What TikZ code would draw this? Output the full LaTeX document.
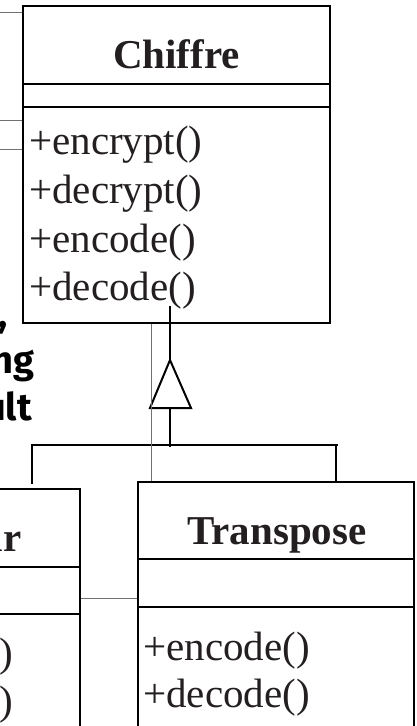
\documentclass[tikz,border=0pt]{standalone}
\usepackage{fontspec}
\setmainfont{Liberation Serif}
\newfontfamily\notefont{Fira Sans}
\definecolor{txt}{HTML}{231F20}
\definecolor{assocgray}{HTML}{707070}
\begin{document}
\begin{tikzpicture}[x=1pt,y=-1pt,
  classbox/.style={draw=black, line width=2pt, rectangle, inner sep=0pt},
  ink/.style={draw=black, line width=2pt},
  title/.style={font=\fontsize{41}{49}\selectfont\bfseries, text=txt, inner sep=0pt, anchor=base},
  op/.style={font=\fontsize{41}{49}\selectfont, text=txt, inner sep=0pt, anchor=base west},
  note/.style={font=\notefont\bfseries\fontsize{38}{46}\selectfont, text=black, inner sep=0pt, anchor=base east},
  assoc/.style={draw=assocgray, line width=1pt},
  gen/.style={draw=black, line width=2pt}]
\useasboundingbox (0,0) rectangle (417,726);
\begin{scope}
\clip (0,0) rectangle (417,726);

% class boxes
\node[classbox, minimum width=307pt, minimum height=317pt] (chiffre) at (176.5,164.5) {};
\node[classbox, minimum width=276pt, minimum height=278pt] (transpose) at (276,621) {};
\node[classbox, minimum width=140pt, minimum height=271pt] (leftbox) at (10,624.5) {};

% compartment separators
\draw[ink] (chiffre.west |- 0,84) -- (chiffre.east |- 0,84);
\draw[ink] (chiffre.west |- 0,107) -- (chiffre.east |- 0,107);
\draw[ink] (transpose.west |- 0,559) -- (transpose.east |- 0,559);
\draw[ink] (transpose.west |- 0,607) -- (transpose.east |- 0,607);
\draw[ink] (leftbox.west |- 0,567) -- (leftbox.east |- 0,567);
\draw[ink] (leftbox.west |- 0,614) -- (leftbox.east |- 0,614);

% class names and operations
\node[title] (chiffreName) at (176.5,68) {Chiffre};
\node[op] (encrypt) at (29,154) {+encrypt()};
\node[op] (decrypt) at (29,203) {+decrypt()};
\node[op] (encode) at (29,252) {+encode()};
\node[op] (decode) at (29,300) {+decode()};

\node[title] (transposeName) at (277,544) {Transpose};
\node[op] (tEncode) at (143,660) {+encode()};
\node[op] (tDecode) at (143,707) {+decode()};

\node[title, anchor=base east] (leftName) at (21.5,551) {ar};
\node[op, anchor=base east] (lEncode) at (13,666) {)};
\node[op, anchor=base east] (lDecode) at (13,714) {)};

% note text
\node[note] (noteA) at (8,327) {,};
\node[note] (noteB) at (35,373) {ng};
\node[note] (noteC) at (32,420) {ult};

% generalization
\coordinate (genTop) at (170,306);
\coordinate (apex) at (170,360);
\coordinate (triL) at (150,408);
\coordinate (triR) at (191,408);
\coordinate (hub) at (170,447);
\coordinate (barL) at (31,445);
\coordinate (barR) at (338,445);
\coordinate (dropL) at (32,445);
\coordinate (dropLend) at (32,484);
\coordinate (dropR) at (336,445);
\draw[gen] (genTop) -- (apex);
\draw[gen, line join=miter] (apex) -- (triR) -- (triL) -- cycle;
\draw[gen] (triL -| apex) -- (hub);
\draw[gen] (barL) -- (barR);
\draw[gen] (dropL) -- (dropLend);
\draw[gen] (dropR) -- (dropR |- transpose.north);

% associations
\coordinate (w1) at (0,12);
\coordinate (w2) at (0,120);
\coordinate (w3) at (0,149);
\coordinate (vx) at (151,0);
\coordinate (hy) at (0,598);
\draw[assoc] (w1) -- (w1 -| chiffre.west);
\draw[assoc] (w2) -- (w2 -| chiffre.west);
\draw[assoc] (w3) -- (w3 -| chiffre.west);
\draw[assoc] (vx |- chiffre.south) -- (vx |- transpose.north);
\draw[assoc] (hy -| leftbox.east) -- (hy -| transpose.west);
\end{scope}
\end{tikzpicture}
\end{document}
